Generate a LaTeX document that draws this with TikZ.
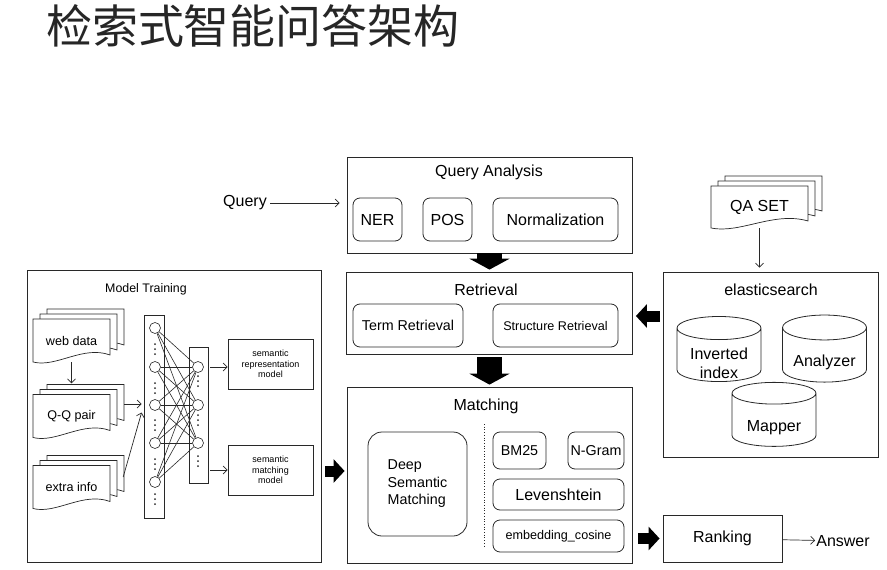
\documentclass[tikz,border=0pt]{standalone}
\usepackage{fontspec}
\setmainfont{Liberation Sans}
\newfontfamily\cjk{Noto Sans CJK SC}
\usetikzlibrary{arrows.meta,positioning,calc,shapes.geometric}
\definecolor{ln}{RGB}{40,40,40}

% stack of three document sheets with a wavy lower edge
\newcommand{\docstack}[7][fsml]{%
  \foreach \k in {2,1,0}
    \draw[doc, shift={(#3+7*\k,#4-5*\k)}] (-#5,#6) -- (-#5,-#6) -- (#5,-#6) -- (#5,#6-7)
      .. controls (#5*0.3,#6-17) and (-#5*0.4,#6+6) .. (-#5,#6) -- cycle;
  \node[#1, minimum width={2*#5pt}, minimum height={2*#6pt}, inner sep=0pt] (#2) at (#3,#4) {#7};
}

\begin{document}
\begin{tikzpicture}[x=1pt, y=-1pt,
    box/.style={draw=ln, line width=0.8pt, inner sep=0pt},
    rbox/.style={box, rounded corners=7pt},
    doc/.style={draw=ln, line width=0.7pt, fill=white},
    db/.style={cylinder, shape border rotate=90, aspect=0.4, draw=ln, fill=white, line width=0.8pt,
      minimum width=84pt, minimum height=64pt, inner sep=0pt, align=center, fbig},
    unit/.style={circle, draw=ln, fill=white, line width=0.6pt, minimum size=11pt, inner sep=0pt},
    fbig/.style={font=\fontsize{16}{19}\selectfont},
    fmid/.style={font=\fontsize{14.3}{17.5}\selectfont},
    fsml/.style={font=\fontsize{12.6}{15}\selectfont},
    fnote/.style={font=\fontsize{9}{10.5}\selectfont},
    arr/.style={-{Straight Barb[length=4pt,width=8pt]}, line width=0.7pt, ln},
    bigarr/.style={-{Triangle[length=11pt,width=23pt]}, line width=11pt, black},
    fatarr/.style={-{Triangle[length=11pt,width=40pt]}, line width=25pt, black},
]
\useasboundingbox (0,0) rectangle (887,570);

% Title
\node[font=\cjk\fontsize{46}{50}\selectfont, text=black!85] (title) at (253,26) {检索式智能问答架构};

% Center: Query Analysis / Retrieval / Matching
\node[fbig] (query) at (245,203) {Query};
\node[box, minimum width=285, minimum height=96] (qa) at (489.5,205) {};
\node[fbig] (qatitle) at (489,172) {Query Analysis};
\node[rbox, fbig, minimum width=49, minimum height=43] (ner) at (377.5,219.5) {NER};
\node[rbox, fbig, minimum width=49, minimum height=43] (pos) at (447.5,219.5) {POS};
\node[rbox, fbig, minimum width=125, minimum height=43] (norm) at (555.5,219.5) {Normalization};

\node[box, minimum width=286, minimum height=82] (ret) at (489.5,313) {};
\node[fbig] (rettitle) at (486,290) {Retrieval};
\node[rbox, fmid, minimum width=110, minimum height=43] (term) at (408,325.5) {Term Retrieval};
\node[rbox, fsml, minimum width=125, minimum height=43] (struct) at (555.5,325.5) {Structure Retrieval};

\node[box, minimum width=285, minimum height=176] (match) at (489.5,475) {};
\node[fbig] (matchtitle) at (486,406) {Matching};
\node[rbox, fmid, rounded corners=14pt, align=left, minimum width=99, minimum height=104] (dsm) at (417.5,484) {Deep\\Semantic\\Matching};
\draw[ln, dotted, line width=0.7pt] (484,424) -- (484,547);
\node[rbox, fmid, minimum width=53, minimum height=37] (bm25) at (519.5,450.5) {BM25};
\node[rbox, fmid, minimum width=56, minimum height=37] (ngram) at (596,450.5) {N-Gram};
\node[rbox, fbig, minimum width=131, minimum height=31] (leven) at (558.5,494.5) {Levenshtein};
\node[rbox, fsml, minimum width=131, minimum height=32] (embcos) at (558.5,536) {embedding\_cosine};

\node[box, fbig, minimum width=119, minimum height=47] (rank) at (722.5,538.5) {Ranking};
\node[fbig, inner sep=1pt] (ans) at (843,541) {Answer};

% Right: QA set and elasticsearch
\docstack[fbig]{qaset}{759.5}{207}{48.5}{21}{QA SET}
\node[box, minimum width=215, minimum height=185] (es) at (770.5,364.5) {};
\node[fbig] (estitle) at (771,290) {elasticsearch};
\node[db] (inv) at (719,355) {\raisebox{0pt}[30pt][0pt]{\begin{tabular}{@{}c@{}}Inverted\\index\end{tabular}}};
\node[db] (ana) at (824.5,355) {\rule{0pt}{26pt}Analyzer};
\node[db] (map) at (774,420) {\rule{0pt}{27pt}Mapper};

% Left: Model Training
\node[box, minimum width=294, minimum height=292] (mt) at (174,416) {};
\node[font=\fontsize{12.4}{15}\selectfont] (mttitle) at (146,289) {Model Training};
\docstack{web}{71.5}{340.5}{38.5}{21.5}{web data}
\docstack{qq}{71.5}{416}{38.5}{21.5}{Q-Q pair}
\docstack{extra}{71.5}{487}{38.5}{21.5}{extra info}

\node[box, minimum width=20, minimum height=203] (col1) at (154,416.5) {};
\node[box, minimum width=19, minimum height=136] (col2) at (198.5,415) {};
\foreach \i/\y in {1/328,2/367,3/405,4/443,5/482}
  \node[unit] (a\i) at (155,\y) {};
\foreach \j/\y in {1/367,2/405,3/443}
  \node[unit] (b\j) at (198,\y) {};
\foreach \i in {1,...,5}
  \foreach \j in {1,2,3}
    \draw[ln, line width=0.6pt] (a\i) -- (b\j);
\foreach \y in {349,388,425,464,499}
  \foreach \d in {-5,0,5} \fill[ln] (155,\y+\d) circle (1);
\foreach \y in {381,420,461}
  \foreach \d in {-5,0,5} \fill[ln] (198,\y+\d) circle (1);

\node[box, fnote, align=center, minimum width=85, minimum height=50] (rep) at (270.5,364) {semantic\\representation\\model};
\node[box, fnote, align=center, minimum width=85, minimum height=50] (smm) at (270.5,470) {semantic\\matching\\model};

% Arrows
\draw[arr, shorten >=7pt] (query) -- (query -| qa.west);
\draw[fatarr, shorten >=2pt] (qa.south) -- (ret.north);
\draw[fatarr, shorten <=3pt, shorten >=2pt] (ret.south) -- (match.north);
\draw[bigarr] ([xshift=4pt,yshift=4pt]mt.east |- match.west) -- ([xshift=-2pt,yshift=4pt]match.west);
\draw[bigarr] ([xshift=-3pt,yshift=-3pt]es.west |- ret.east) -- ([xshift=3pt,yshift=-3pt]ret.east);
\draw[bigarr] ([xshift=6pt]match.east |- rank.west) -- ([xshift=-3pt]rank.west);
\draw[arr] (rank) -- (ans);
\draw[arr, shorten >=4pt] (qaset.south) -- (qaset.south |- es.north);

\draw[arr, shorten >=11pt] (web.south) -- (qq.north);
\draw[arr] ([xshift=14pt,yshift=12pt]qq.east) -- ([xshift=-2pt,yshift=12pt]qq.east -| col1.west);
\draw[arr] ([xshift=13pt,yshift=10pt]extra.east) -- ([xshift=-2pt,yshift=4pt]col1.west);
\draw[arr] ([xshift=2pt]col2.east |- b1) -- (rep.west |- b1);
\draw[arr] ([xshift=2pt]col2.east |- smm.west) -- (smm.west);
\end{tikzpicture}
\end{document}
